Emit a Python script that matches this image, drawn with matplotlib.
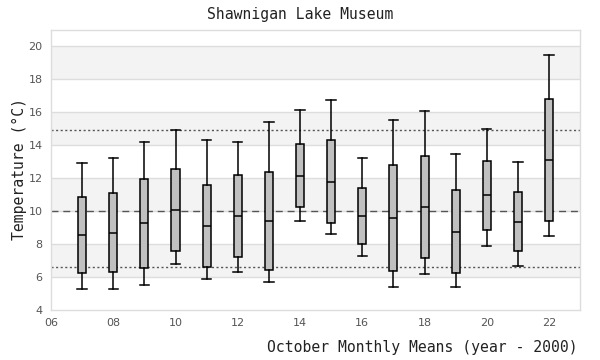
import matplotlib.pyplot as plt

# October monthly means, Shawnigan Lake Museum
years = [7, 8, 9, 10, 11, 12, 13, 14, 15, 16, 17, 18, 19, 20, 21, 22]
whislo = [5.25, 5.25, 5.50, 6.77, 5.86, 6.28, 5.68, 9.38, 8.59, 7.27, 5.37, 6.16, 5.37, 7.86, 6.65, 8.47]
q1 = [6.22, 6.28, 6.53, 7.56, 6.61, 7.21, 6.41, 10.22, 9.25, 7.98, 6.34, 7.13, 6.22, 8.83, 7.56, 9.38]
med = [8.53, 8.65, 9.25, 10.04, 9.07, 9.68, 9.38, 12.10, 11.74, 9.68, 9.56, 10.22, 8.71, 10.95, 9.32, 13.09]
q3 = [10.83, 11.07, 11.92, 12.53, 11.56, 12.16, 12.35, 14.04, 14.28, 11.38, 12.77, 13.31, 11.25, 13.01, 11.13, 16.77]
whishi = [12.89, 13.19, 14.16, 14.89, 14.28, 14.16, 15.38, 16.14, 16.75, 13.23, 15.54, 16.04, 13.44, 14.95, 12.95, 19.44]

mean_line = 10.0
upper_line = 14.9
lower_line = 6.6

mono = 'DejaVu Sans Mono'

fig = plt.figure(figsize=(6, 3.6), dpi=100)
ax = fig.add_axes([0.085, 0.139, 0.882, 0.779])

# alternating bands and grid
for lo in range(6, 21, 4):
    ax.axhspan(lo, lo + 2, color='#f3f3f3', zorder=0, lw=0)
for y in range(6, 22, 2):
    ax.axhline(y, color='#dddddd', lw=1, zorder=0.5)

ax.axhline(upper_line, color='#555555', lw=1, ls=(0, (1.5, 1.8)), zorder=1)
ax.axhline(lower_line, color='#555555', lw=1, ls=(0, (1.5, 1.8)), zorder=1)
ax.axhline(mean_line, color='#555555', lw=1, ls=(0, (5, 3.5)), zorder=1)

stats = []
for i in range(len(years)):
    stats.append({'whislo': whislo[i], 'q1': q1[i], 'med': med[i],
                  'q3': q3[i], 'whishi': whishi[i], 'fliers': []})

ax.bxp(stats, positions=years, widths=0.26, patch_artist=True, showfliers=False,
       boxprops=dict(facecolor='#c0c0c0', edgecolor='black', lw=1.1),
       medianprops=dict(color='black', lw=1.1),
       whiskerprops=dict(color='black', lw=1.1),
       capprops=dict(color='black', lw=1.1), capwidths=0.3,
       zorder=3)

ax.set_xlim(6, 23)
ax.set_ylim(4, 21)
ax.set_xticks(range(6, 23, 2))
ax.set_xticklabels(['%02d' % x for x in range(6, 23, 2)])
ax.set_yticks(range(4, 21, 2))
ax.tick_params(length=0, labelsize=8, colors='#555555', pad=6)

for s in ax.spines.values():
    s.set_color('#dddddd')
    s.set_linewidth(1)

fig.text(0.5, 0.96, 'Shawnigan Lake Museum', ha='center', va='center',
         family=mono, fontsize=10.6, color='#222222')
fig.text(0.032, 0.53, 'Temperature (\u00b0C)', rotation=90, ha='center', va='center',
         family=mono, fontsize=10.6, color='#222222')
fig.text(0.963, 0.035, 'October Monthly Means (year - 2000)', ha='right', va='center',
         family=mono, fontsize=10.6, color='#222222')

fig.savefig('out.png', dpi=100)
